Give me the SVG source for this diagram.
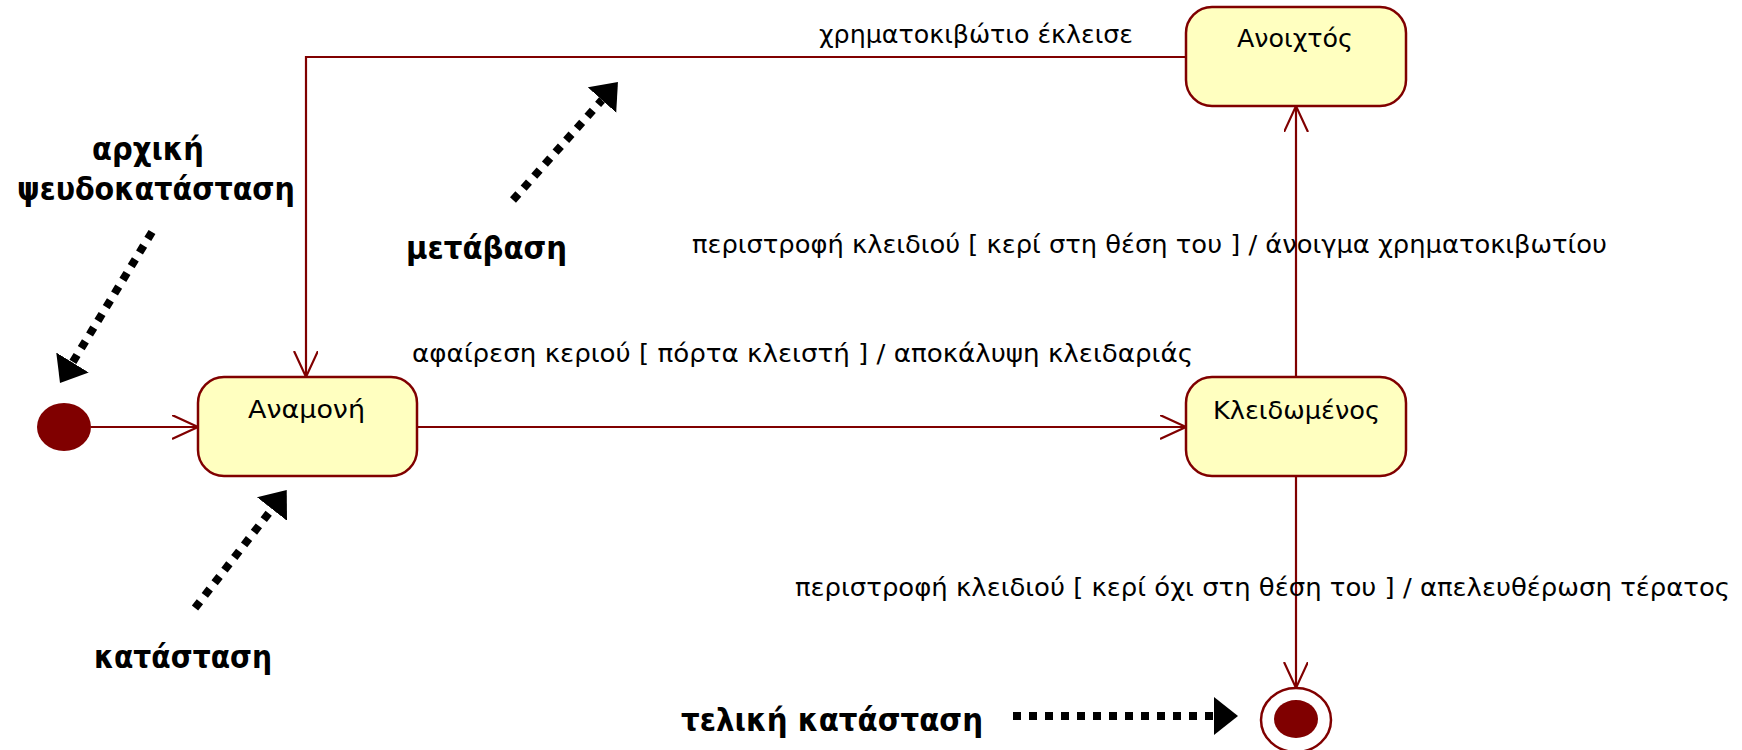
<svg xmlns="http://www.w3.org/2000/svg" width="1742" height="750" viewBox="0 0 1742 750">
  <style>
    .state { fill: #FFFFC0; stroke: #800000; stroke-width: 2.5; }
    .name { font-family: "DejaVu Sans", "Liberation Sans", sans-serif; font-size: 25px; fill: #000; }
    .lbl { font-family: "DejaVu Sans", "Liberation Sans", sans-serif; font-size: 24px; fill: #000; }
    .edge { fill: none; stroke: #800000; stroke-width: 2.2; }
    .note { font-family: "DejaVu Sans", "Liberation Sans", sans-serif; font-size: 31px; font-weight: bold; fill: #000; }
    .pointer { fill: none; stroke: #000; stroke-width: 8; stroke-dasharray: 8 8; }
  </style>
  <defs>
    <marker id="open" markerUnits="userSpaceOnUse" markerWidth="30" markerHeight="30" refX="26" refY="12" orient="auto">
      <path d="M0,0 L26,12 L0,24" fill="none" stroke="#800000" stroke-width="2.2"/>
    </marker>
    <marker id="solid" markerUnits="userSpaceOnUse" markerWidth="26" markerHeight="40" refX="0" refY="19" orient="auto">
      <path d="M0,0 L24,19 L0,38 Z" fill="#000"/>
    </marker>
  </defs>

  <!-- transitions -->
  <g id="connectors">
    <path class="edge" d="M91,427 L198,427" marker-end="url(#open)"/>
    <path class="edge" d="M417,427 L1186,427" marker-end="url(#open)"/>
    <path class="edge" d="M1296,377 L1296,106" marker-end="url(#open)"/>
    <path class="edge" d="M1186,57 L306,57 L306,377" marker-end="url(#open)"/>
    <path class="edge" d="M1296,476 L1296,688" marker-end="url(#open)"/>
    <text class="lbl" x="819" y="43" textLength="314" lengthAdjust="spacingAndGlyphs">χρηματοκιβώτιο έκλεισε</text>
    <text class="lbl" x="692" y="253" textLength="915" lengthAdjust="spacingAndGlyphs">περιστροφή κλειδιού [ κερί στη θέση του ] / άνοιγμα χρηματοκιβωτίου</text>
    <text class="lbl" x="412" y="362" textLength="781" lengthAdjust="spacingAndGlyphs">αφαίρεση κεριού [ πόρτα κλειστή ] / αποκάλυψη κλειδαριάς</text>
    <text class="lbl" x="795" y="596" textLength="935" lengthAdjust="spacingAndGlyphs">περιστροφή κλειδιού [ κερί όχι στη θέση του ] / απελευθέρωση τέρατος</text>
  </g>

  <!-- states -->
  <g id="initial">
    <ellipse cx="64" cy="427" rx="27" ry="24" fill="#800000"/>
  </g>
  <g id="anamoni">
    <rect class="state" x="198" y="377" width="219" height="99" rx="26" ry="26"/>
    <text class="name" x="248" y="418" textLength="117" lengthAdjust="spacingAndGlyphs">Αναμονή</text>
  </g>
  <g id="anoiktos">
    <rect class="state" x="1186" y="7" width="220" height="99" rx="26" ry="26"/>
    <text class="name" x="1237" y="47" textLength="116" lengthAdjust="spacingAndGlyphs">Ανοιχτός</text>
  </g>
  <g id="kleidomenos">
    <rect class="state" x="1186" y="377" width="220" height="99" rx="26" ry="26"/>
    <text class="name" x="1213" y="419" textLength="167" lengthAdjust="spacingAndGlyphs">Κλειδωμένος</text>
  </g>
  <g id="final">
    <ellipse cx="1296" cy="720" rx="35" ry="32" fill="#fff" stroke="#800000" stroke-width="2.5"/>
    <ellipse cx="1296" cy="719" rx="22" ry="19" fill="#800000"/>
  </g>

  <!-- annotations -->
  <g id="annotations">
    <text class="note" x="92" y="160" textLength="112" lengthAdjust="spacingAndGlyphs">αρχική</text>
    <text class="note" x="17" y="200" textLength="278" lengthAdjust="spacingAndGlyphs">ψευδοκατάσταση</text>
    <path class="pointer" d="M152,232 L72.5,362.5" marker-end="url(#solid)"/>
    <text class="note" x="406" y="259" textLength="161" lengthAdjust="spacingAndGlyphs">μετάβαση</text>
    <path class="pointer" d="M513,200 L602,100" marker-end="url(#solid)"/>
    <text class="note" x="94" y="668" textLength="178" lengthAdjust="spacingAndGlyphs">κατάσταση</text>
    <path class="pointer" d="M195,608 L272,509" marker-end="url(#solid)"/>
    <text class="note" x="681" y="731" textLength="302" lengthAdjust="spacingAndGlyphs">τελική κατάσταση</text>
    <path class="pointer" d="M1013,716 L1214,716" marker-end="url(#solid)"/>
  </g>
</svg>
